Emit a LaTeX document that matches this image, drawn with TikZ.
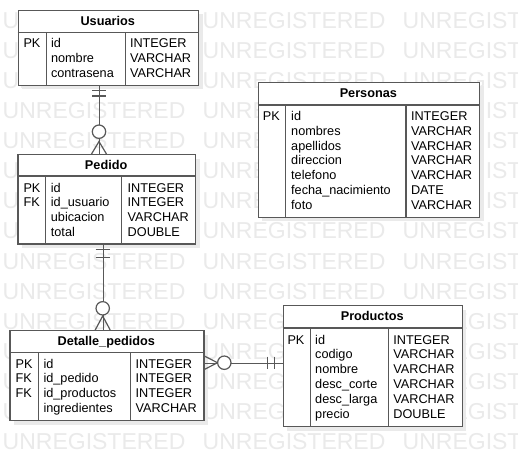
\documentclass[tikz,border=0pt]{standalone}
\usepackage{fontspec}
\setmainfont{Liberation Sans}
\definecolor{lc}{RGB}{88,88,88}
\definecolor{wmc}{RGB}{234,234,234}
\definecolor{shc}{RGB}{234,234,234}
\newcommand\erfs{\fontsize{12.7}{15}\selectfont}
\newcommand\wmfs{\fontsize{23}{27}\selectfont}
\begin{document}
\begin{tikzpicture}[x=1pt,y=-1pt,
  tbl/.style={draw=lc,line width=1.3pt,fill=white,inner sep=0pt,anchor=north west},
  sep/.style={draw=lc,line width=1.3pt},
  conn/.style={draw=lc,line width=1.2pt},
  shd/.style={fill=shc},
  ttl/.style={font=\erfs\bfseries,inner sep=0pt,anchor=base},
  cell/.style={font=\erfs,inner sep=0pt,anchor=base west},
  wm/.style={font=\wmfs,text=wmc,inner sep=0pt,anchor=base west}]
\useasboundingbox[fill=white] (0,0) rectangle (518,466);
\clip (0,0) rectangle (518,466);
% watermark
\foreach \r in {0,...,14} \foreach \c in {0,1,2}
  \node[wm] (wm-\r-\c) at ({2.5+200*\c},{28.2+30.1*\r}) {UNREGISTERED};
% shadows
\fill[shd] (22,14) rectangle (202.5,89);
\fill[shd] (21.8,158.5) rectangle (199.5,247.8);
\fill[shd] (13.8,334.5) rectangle (207.8,424.5);
\fill[shd] (262.2,86.2) rectangle (483.5,221.2);
\fill[shd] (287.2,309.5) rectangle (466.2,430.5);
% ---------------- Usuarios
\node[tbl,minimum width=180.5pt,minimum height=75pt] (usu) at (17.5,9.5) {};
\draw[sep] (17.5,32.5) -- (198,32.5) (46.3,32.5) -- (46.3,84.5) (125.7,32.5) -- (125.7,84.5);
\node[ttl] (usu-t) at (107.75,25.2) {Usuarios};
\node[cell] (usu-k1) at (23.3,47.8) {PK};
\foreach \t [count=\i] in {id,nombre,contrasena}
  \node[cell] (usu-n\i) at (50.8,{47.8+15*(\i-1)}) {\t};
\foreach \t [count=\i] in {INTEGER,VARCHAR,VARCHAR}
  \node[cell] (usu-y\i) at (129.8,{47.8+15*(\i-1)}) {\t};
% ---------------- Pedido
\node[tbl,minimum width=177.7pt,minimum height=89.3pt] (ped) at (17.3,154) {};
\draw[sep] (17.3,176) -- (195,176) (45.7,176) -- (45.7,243.3) (121.7,176) -- (121.7,243.3);
\node[ttl] (ped-t) at (106.15,169.5) {Pedido};
\foreach \t [count=\i] in {PK,FK}
  \node[cell] (ped-k\i) at (23.3,{192+14.9*(\i-1)}) {\t};
\foreach \t [count=\i] in {id,id\_usuario,ubicacion,total}
  \node[cell] (ped-n\i) at (50.7,{192+14.9*(\i-1)}) {\t};
\foreach \t [count=\i] in {INTEGER,INTEGER,VARCHAR,DOUBLE}
  \node[cell] (ped-y\i) at (127.5,{192+14.9*(\i-1)}) {\t};
% ---------------- Detalle_pedidos
\node[tbl,minimum width=194pt,minimum height=90pt] (det) at (9.3,330) {};
\draw[sep] (9.3,352.7) -- (203.3,352.7) (38.3,352.7) -- (38.3,420) (130.7,352.7) -- (130.7,420);
\node[ttl] (det-t) at (106.3,345) {Detalle\_pedidos};
\foreach \t [count=\i] in {PK,FK,FK}
  \node[cell] (det-k\i) at (15.5,{368+14.9*(\i-1)}) {\t};
\foreach \t [count=\i] in {id,id\_pedido,id\_productos,ingredientes}
  \node[cell] (det-n\i) at (43.3,{368+14.9*(\i-1)}) {\t};
\foreach \t [count=\i] in {INTEGER,INTEGER,INTEGER,VARCHAR}
  \node[cell] (det-y\i) at (135.5,{368+14.9*(\i-1)}) {\t};
% ---------------- Personas
\node[tbl,minimum width=221.3pt,minimum height=135pt] (per) at (257.7,81.7) {};
\draw[sep] (257.7,105) -- (479,105) (285.7,105) -- (285.7,216.7) (406,105) -- (406,216.7);
\node[ttl] (per-t) at (368.35,97.8) {Personas};
\node[cell] (per-k1) at (262.7,120.5) {PK};
\foreach \t [count=\i] in {id,nombres,apellidos,direccion,telefono,fecha\_nacimiento,foto}
  \node[cell] (per-n\i) at (291,{120.5+14.8*(\i-1)}) {\t};
\foreach \t [count=\i] in {INTEGER,VARCHAR,VARCHAR,VARCHAR,VARCHAR,DATE,VARCHAR}
  \node[cell] (per-y\i) at (410.8,{120.5+14.8*(\i-1)}) {\t};
% ---------------- Productos
\node[tbl,minimum width=179pt,minimum height=121pt] (pro) at (282.7,305) {};
\draw[sep] (282.7,328) -- (461.7,328) (310.3,328) -- (310.3,426) (388.3,328) -- (388.3,426);
\node[ttl] (pro-t) at (372.2,320.8) {Productos};
\node[cell] (pro-k1) at (287.3,344) {PK};
\foreach \t [count=\i] in {id,codigo,nombre,desc\_corte,desc\_larga,precio}
  \node[cell] (pro-n\i) at (315,{344+14.95*(\i-1)}) {\t};
\foreach \t [count=\i] in {INTEGER,VARCHAR,VARCHAR,VARCHAR,VARCHAR,DOUBLE}
  \node[cell] (pro-y\i) at (393.2,{344+14.95*(\i-1)}) {\t};
% ---------------- connectors
% Usuarios -- Pedido
\draw[conn] ([xshift=-8.75pt]usu.south) -- ([xshift=-7.15pt]ped.north);
\draw[conn] (92,90.7) -- (106,90.7) (92,96) -- (106,96);
\draw[conn,fill=white] (99,131.7) circle[radius=6.7pt];
\draw[conn] (91.5,154) -- (99,141.5) -- (106.5,154);
% Pedido -- Detalle_pedidos
\draw[conn] ([xshift=-3.45pt]ped.south) -- ([xshift=-3.6pt]det.north);
\draw[conn] (95.7,249.3) -- (109.7,249.3) (95.7,257.3) -- (109.7,257.3);
\draw[conn,fill=white] (102.7,308.3) circle[radius=6.7pt];
\draw[conn] (95.2,330) -- (102.7,316) -- (110.2,330);
% Detalle_pedidos -- Productos
\draw[conn] ([yshift=12.3pt]det.east) -- ([yshift=2.8pt]pro.west);
\draw[conn] (203.3,355.5) -- (217.5,362.7) -- (203.3,370);
\draw[conn,fill=white] (224.3,362.7) circle[radius=6.7pt];
\draw[conn] (267.7,356.7) -- (267.7,368.7) (274.3,356.7) -- (274.3,368.7);
\end{tikzpicture}
\end{document}
